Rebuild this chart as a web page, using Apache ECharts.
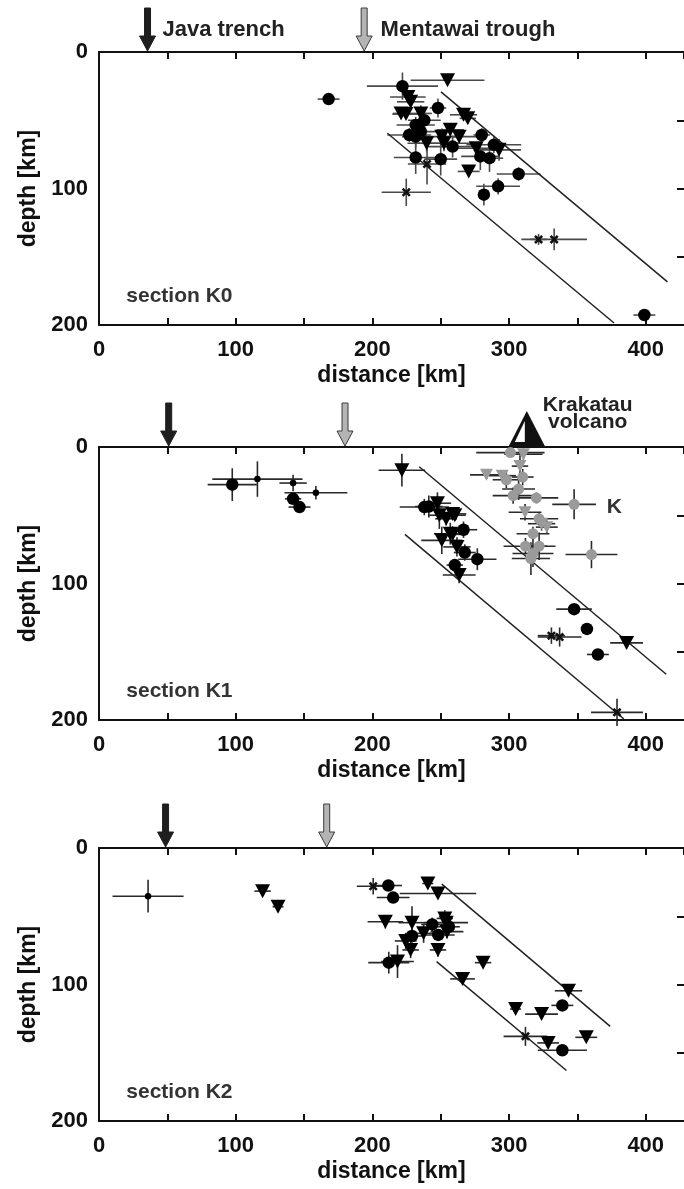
<!DOCTYPE html>
<html>
<head>
<meta charset="utf-8">
<script src="https://cdn.jsdelivr.net/npm/echarts@6/dist/echarts.min.js"></script>
<style>
  html, body { margin: 0; padding: 0; background: #fff; }
  #main { width: 684px; height: 1189px; }
</style>
</head>
<body>
<div id="main"></div>
<script>
var chart = echarts.init(document.getElementById('main'));
var FONT = 'Liberation Sans, Arial, sans-serif';

// each point: [distance km, depth km, +-distance err, +-depth err]

// ---- section K0
var k0Circles = [
  [168, 34.5, 8, 2], [222, 25, 26, 10], [248, 41, 6, 7], [238, 50, 12, 5],
  [231.7, 53.5, 14, 6], [227, 60.8, 16, 5], [235.5, 58.3, 12, 6], [231.7, 62, 10, 8],
  [258.7, 69.3, 20, 8], [280, 60.8, 6, 5], [288.9, 68, 20, 6], [279, 76.5, 14, 10],
  [285.7, 77.8, 10, 10], [231.7, 77.3, 16, 12], [250, 78.5, 12, 12], [307, 89.4, 16, 5],
  [292, 98.4, 16, 6], [281.6, 104.5, 4, 8], [399, 192.7, 8, 3]
];
var k0Triangles = [
  [255, 20.7, 27, 3], [226, 33, 13, 4], [228, 36.5, 10, 5], [221, 45, 6, 3],
  [224.6, 45.5, 10, 3], [235.5, 45, 8, 6], [266.7, 46, 10, 4], [269.8, 48.6, 6, 4],
  [239.7, 66.8, 14, 6], [250.8, 62, 12, 6], [257, 57, 10, 5], [263.5, 62, 16, 5],
  [252.4, 66.8, 20, 6], [276, 70.5, 14, 4], [292.7, 71.7, 16, 8], [270.5, 87.5, 8, 4]
];
var k0Stars = [[240, 82, 14, 15], [224.8, 102.8, 18, 10], [321.6, 137.3, 6, 4], [333, 137.3, 24, 8]];
var k0Slabs = [[[250.2, 29.2], [415.9, 168.4]], [[211, 59.5], [376.8, 198.5]]];
var k0Arrows = [[35.5, 0], [194, 1]];

// ---- section K1
var k1Circles = [
  [97.5, 27.6, 18, 12], [142, 38, 6, 3], [146.7, 44, 8, 3], [238, 44, 18, 6],
  [241.3, 43.6, 10, 8], [266.7, 60.6, 10, 6], [267.6, 77.3, 8, 6], [276.8, 82.2, 14, 8],
  [260.3, 86.5, 6, 4], [347.6, 118.8, 13, 3], [357, 133.3, 4, 2], [365, 152, 8, 3]
];
var k1Dots = [[115.9, 23.5, 33, 13], [142, 26.4, 10, 6], [158.7, 33.5, 23, 5]];
var k1Triangles = [
  [221.6, 17, 17, 12], [247.6, 41.2, 10, 8], [249, 50, 8, 10], [254, 52.6, 8, 5],
  [258.7, 49, 10, 4], [260.3, 50, 8, 4], [257, 63.5, 12, 8], [250.8, 68.4, 15, 10],
  [258.7, 64, 10, 6], [261.9, 73.2, 10, 7], [263.5, 93.8, 12, 6], [386, 143.5, 12, 4]
];
var k1Stars = [[331, 138.2, 10, 6], [337, 139.2, 16, 7], [379, 194.4, 19, 10]];
var k1GrayCircles = [
  [301, 4.1, 25, 3], [307, 30.8, 12, 8], [303, 35.6, 15, 6], [320, 37.3, 16, 4],
  [347.6, 42, 16, 11], [322, 52.6, 14, 5], [317.5, 63.5, 12, 5], [312, 72.7, 16, 6],
  [322, 72.7, 12, 10], [317.5, 78, 15, 10], [360.3, 78.8, 19, 10], [316, 81.7, 14, 12],
  [298, 24, 10, 6], [310, 22, 8, 6]
];
var k1GrayTriangles = [
  [310.5, 5.3, 14, 4], [283.5, 20.4, 12, 3], [295, 21, 10, 3], [311.7, 47.8, 12, 6],
  [323.8, 56.2, 10, 5], [327.6, 58.7, 8, 5], [308, 14, 6, 8]
];
var k1Slabs = [[[234.3, 14.5], [415, 166.5]], [[223.8, 64], [384, 199.3]]];
var k1Arrows = [[51, 0], [180, 1]];
var k1Volcano = [313];

// ---- section K2
var k2Circles = [
  [211.7, 27.5, 10, 3], [215.2, 36.3, 12, 4], [243.8, 56, 8, 5], [256, 57.7, 8, 5],
  [248.2, 63.7, 12, 4], [229, 64.5, 8, 5], [212, 84, 15, 8], [339, 115.3, 8, 4],
  [339, 148.2, 18, 4]
];
var k2Triangles = [
  [119.7, 31.6, 6, 2], [131, 43, 4, 2], [240.6, 26, 4, 2], [248, 33.3, 28, 4],
  [209.5, 54, 13, 5], [229, 54.7, 10, 12], [253, 51.6, 6, 6], [254, 54.7, 16, 7],
  [254.6, 61.3, 12, 5], [237.5, 62.5, 8, 7], [224.4, 68.1, 8, 6], [228, 74.7, 6, 6],
  [248, 74.7, 6, 5], [218.4, 83.2, 12, 12], [281, 84, 6, 2], [266, 95.9, 9, 3],
  [343.5, 104.6, 10, 3], [304.8, 118, 4, 2], [323.8, 121.7, 12, 3], [328.6, 142.8, 8, 4],
  [356.5, 138.7, 8, 2]
];
var k2Dots = [[35.9, 35.3, 26, 12]];
var k2Stars = [[200.6, 28, 12, 6], [312, 138, 16, 7]];
var k2Slabs = [[[250.8, 26.5], [374, 130.7]], [[247, 83.2], [342, 163]]];
var k2Arrows = [[48.7, 0], [166.6, 1]];

// text annotations: [text, distance km, depth km, size, align, color]
var k0Texts = [
  ['Java trench', 46.4, -15.9, 22, 'left', '#222'],
  ['Mentawai trough', 206, -15.9, 22, 'left', '#222'],
  ['section K0', 20, 179, 21, 'left', '#333']
];
var k1Texts = [
  ['Krakatau', 357.5, -30.5, 21, 'center', '#222'],
  ['volcano', 357.5, -18, 21, 'center', '#222'],
  ['K', 377, 44, 21, 'center', '#333'],
  ['section K1', 20, 179, 21, 'left', '#333']
];
var k2Texts = [['section K2', 20, 179, 21, 'left', '#333']];

var panels = [
  { top: 52, circles: k0Circles, triangles: k0Triangles, stars: k0Stars, dots: [],
    grayCircles: [], grayTriangles: [], slabs: k0Slabs, arrows: k0Arrows, volcano: [], texts: k0Texts, bar: '#4a4a4a' },
  { top: 447, circles: k1Circles, triangles: k1Triangles, stars: k1Stars, dots: k1Dots,
    grayCircles: k1GrayCircles, grayTriangles: k1GrayTriangles, slabs: k1Slabs, arrows: k1Arrows, volcano: k1Volcano, texts: k1Texts, bar: '#2a2a2a' },
  { top: 848, circles: k2Circles, triangles: k2Triangles, stars: k2Stars, dots: k2Dots,
    grayCircles: [], grayTriangles: [], slabs: k2Slabs, arrows: k2Arrows, volcano: [], texts: k2Texts, bar: '#2a2a2a' }
];

var STAR = 'path://M0,2L2,0L5,3L8,0L10,2L7,5L10,8L8,10L5,7L2,10L0,8L3,5Z';
var axisLine = { onZero: false, lineStyle: { color: '#111', width: 2 } };
var axisTick = { inside: true, length: 7, lineStyle: { color: '#111', width: 2 } };
var labelStyle = { fontFamily: FONT, fontWeight: 'bold', fontSize: 22, color: '#111' };

function hundreds(v) { return v % 100 === 0 ? String(v) : ''; }

var grids = [], xAxes = [], yAxes = [], series = [];

panels.forEach(function (p, i) {
  grids.push({ left: 99, top: p.top, width: 587, height: 273 });
  xAxes.push({
    type: 'value', gridIndex: i, min: 0, max: 428, interval: 50, position: 'bottom',
    name: 'distance [km]', nameLocation: 'middle', nameGap: 39,
    nameTextStyle: { fontFamily: FONT, fontWeight: 'bold', fontSize: 23, color: '#111' },
    axisLine: axisLine, axisTick: axisTick, splitLine: { show: false },
    axisLabel: Object.assign({ margin: 14, formatter: hundreds, showMaxLabel: false }, labelStyle)
  });
  xAxes.push({
    type: 'value', gridIndex: i, min: 0, max: 428, interval: 50, position: 'top',
    axisLine: axisLine, axisTick: axisTick, splitLine: { show: false }, axisLabel: { show: false }
  });
  yAxes.push({
    type: 'value', gridIndex: i, min: 0, max: 200, interval: 50, inverse: true, position: 'left',
    name: 'depth [km]', nameLocation: 'middle', nameGap: 56,
    nameTextStyle: { fontFamily: FONT, fontWeight: 'bold', fontSize: 23, color: '#111' },
    axisLine: axisLine, axisTick: { show: false }, splitLine: { show: false },
    axisLabel: Object.assign({ margin: 11, formatter: hundreds }, labelStyle)
  });
  yAxes.push({
    type: 'value', gridIndex: i, min: 0, max: 200, interval: 50, inverse: true, position: 'right',
    axisLine: { show: false, onZero: false }, axisTick: axisTick, splitLine: { show: false }, axisLabel: { show: false }
  });

  var xi = 2 * i, yi = 2 * i;
  var allPts = [].concat(p.circles, p.triangles, p.stars, p.dots, p.grayCircles, p.grayTriangles);

  // error bars
  series.push({
    type: 'custom', xAxisIndex: xi, yAxisIndex: yi, z: 2, silent: true,
    data: allPts,
    renderItem: function (params, api) {
      var x = api.value(0), d = api.value(1), ex = api.value(2), ed = api.value(3);
      var a = api.coord([x - ex, d]), b = api.coord([x + ex, d]);
      var c = api.coord([x, d - ed]), e = api.coord([x, d + ed]);
      var st = { stroke: p.bar, lineWidth: 1.6 };
      return { type: 'group', children: [
        { type: 'line', shape: { x1: a[0], y1: a[1], x2: b[0], y2: b[1] }, style: st },
        { type: 'line', shape: { x1: c[0], y1: c[1], x2: e[0], y2: e[1] }, style: st }
      ] };
    }
  });

  // slab outlines
  p.slabs.forEach(function (s) {
    series.push({
      type: 'line', xAxisIndex: xi, yAxisIndex: yi, data: s, symbol: 'none', silent: true, z: 3,
      lineStyle: { color: '#222', width: 1.5 }
    });
  });

  function scatter(data, symbol, size, color, rotate) {
    series.push({
      type: 'scatter', xAxisIndex: xi, yAxisIndex: yi, data: data, symbol: symbol,
      symbolSize: size, symbolRotate: rotate || 0, silent: true, z: 4,
      itemStyle: { color: color, opacity: 1 }
    });
  }
  scatter(p.grayCircles, 'circle', 11, '#9a9a9a');
  scatter(p.grayTriangles, 'triangle', [13, 12], '#9a9a9a', 180);
  scatter(p.circles, 'circle', 12.5, '#000');
  scatter(p.triangles, 'triangle', [15, 14], '#000', 180);
  scatter(p.stars, STAR, 9, '#111');
  scatter(p.dots, 'circle', 6.5, '#000');

  // arrows above the top axis
  series.push({
    type: 'custom', xAxisIndex: xi, yAxisIndex: yi, z: 5, silent: true, clip: false,
    data: p.arrows,
    renderItem: function (params, api) {
      var t = api.coord([api.value(0), 0]);
      var x = t[0], y = t[1] - 1;
      var gray = api.value(1) === 1;
      var pts = [[x - 3, y - 43], [x + 3, y - 43], [x + 3, y - 15], [x + 8, y - 15], [x, y],
                 [x - 8, y - 15], [x - 3, y - 15]];
      return { type: 'polygon', shape: { points: pts },
        style: { fill: gray ? '#b4b4b4' : '#1e1e1e', stroke: gray ? '#3a3a3a' : '#1e1e1e', lineWidth: 1 } };
    }
  });

  // volcano symbol
  series.push({
    type: 'custom', xAxisIndex: xi, yAxisIndex: yi, z: 5, silent: true, clip: false,
    data: p.volcano.map(function (v) { return [v, 0]; }),
    renderItem: function (params, api) {
      var t = api.coord([api.value(0), 0]);
      var x = t[0], y = t[1] - 1;
      return { type: 'group', children: [
        { type: 'polygon', shape: { points: [[x, y - 35], [x + 18, y], [x - 18, y]] }, style: { fill: '#111' } },
        { type: 'polygon', shape: { points: [[x - 2, y - 25], [x - 2, y - 4], [x - 12, y - 4]] }, style: { fill: '#fff' } }
      ] };
    }
  });

  // text annotations
  series.push({
    type: 'custom', xAxisIndex: xi, yAxisIndex: yi, z: 6, silent: true, clip: false,
    data: p.texts.map(function (t) { return [t[1], t[2]]; }),
    renderItem: function (params, api) {
      var t = p.texts[params.dataIndex];
      var c = api.coord([api.value(0), api.value(1)]);
      return { type: 'text', x: c[0], y: c[1],
        style: { text: t[0], fontFamily: FONT, fontWeight: 'bold', fontSize: t[3],
          fill: t[5], textAlign: t[4], textVerticalAlign: 'middle' } };
    }
  });
});

chart.setOption({
  animation: false,
  backgroundColor: '#fff',
  grid: grids,
  xAxis: xAxes,
  yAxis: yAxes,
  series: series
});
</script>
</body>
</html>
